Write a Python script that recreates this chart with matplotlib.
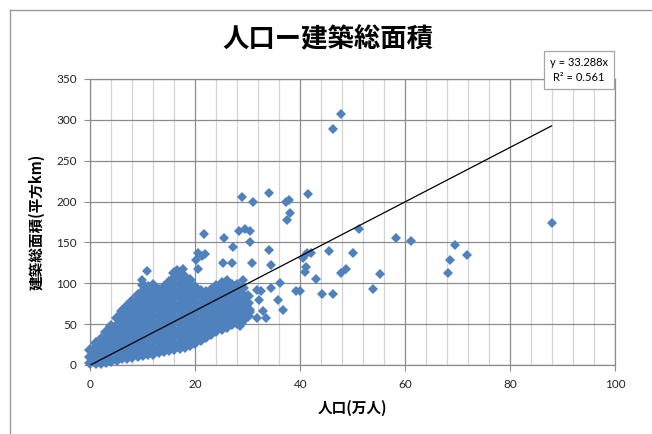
import matplotlib

matplotlib.use("Agg")
import matplotlib.pyplot as plt
from matplotlib.lines import Line2D
from matplotlib.ticker import MultipleLocator

# dense cluster, read column by column: population (万人) -> list of areas (平方km)
cluster_pop = list(range(0, 31))
cluster_area = [
    [2, 10, 18],
    [2, 6, 14, 22, 27],
    [3, 10, 18, 26, 32],
    [4, 8, 16, 24, 32, 40],
    [5, 12, 20, 28, 36, 44, 48],
    [6, 9, 17, 25, 33, 41, 49, 57],
    [8, 15, 23, 31, 39, 47, 55, 63, 66],
    [9, 12, 20, 28, 36, 44, 52, 60, 68, 72],
    [10, 17, 25, 33, 41, 49, 57, 65, 73, 78],
    [11, 14, 22, 30, 38, 46, 54, 62, 70, 78, 86],
    [12, 19, 27, 35, 43, 51, 59, 67, 75, 83, 91, 98],
    [13, 16, 24, 32, 40, 48, 56, 64, 72, 80, 88, 95],
    [14, 21, 29, 37, 45, 53, 61, 69, 77, 85, 93, 98],
    [16, 20, 28, 36, 44, 52, 60, 68, 76, 84, 92],
    [17, 24, 32, 40, 48, 56, 64, 72, 80, 88, 96],
    [18, 22, 30, 38, 46, 54, 62, 70, 78, 86, 94, 102],
    [20, 27, 35, 43, 51, 59, 67, 75, 83, 91, 99, 107, 112],
    [21, 26, 34, 42, 50, 58, 66, 74, 82, 90, 98, 106, 112],
    [22, 29, 37, 45, 53, 61, 69, 77, 85, 93, 101, 108],
    [25, 32, 40, 48, 56, 64, 72, 80, 88, 96, 104],
    [27, 35, 43, 51, 59, 67, 75, 83, 91, 96],
    [30, 36, 44, 52, 60, 68, 76, 84, 90],
    [34, 41, 49, 57, 65, 73, 81, 89],
    [38, 44, 52, 60, 68, 76, 84, 92],
    [41, 49, 57, 65, 73, 81, 89, 97],
    [44, 52, 60, 68, 76, 84, 92, 100],
    [47, 55, 63, 71, 79, 87, 95, 103],
    [50, 58, 66, 74, 82, 90, 98],
    [52, 60, 68, 76, 84, 92, 98],
    [55, 62, 70, 78, 86, 94],
    [60, 68, 76, 84],
]

# scattered points outside the cluster
outlier_pop = [
    10.8, 9.8, 17.6, 16.5, 20.2, 21.2, 21.8, 20.5, 20.5, 21.7, 25.5, 27.1,
    28.3, 29.4, 30.4, 30.5, 34.0, 28.8, 30.9, 34.1, 37.2, 37.9, 41.5, 38.0,
    37.4, 25.2, 26.9, 30.7, 34.4, 36.1, 39.1, 35.8, 36.7, 32.9, 33.4, 31.7,
    32.2, 30.5, 31.7, 28.5, 27.5, 41.0, 40.9, 43.0, 41.2, 42.1, 45.5, 44.2,
    46.2, 47.8, 48.8, 50.0, 40.5, 39.9, 51.1, 58.2, 61.1, 69.4, 71.8, 68.5,
    68.2, 53.8, 55.1, 46.2, 47.7, 87.9, 29.1, 25.9, 34.5, 32.6, 27.2, 28.8,
    27.7, 30.4,
]
outlier_area = [
    115, 104, 118, 116, 128, 133, 135.5, 137, 117, 160, 156, 145,
    164, 166, 164, 151, 141, 205, 199, 211, 200, 202, 209, 186,
    177, 124.5, 125, 125, 122, 100, 91, 79.5, 67, 66, 58, 92,
    80, 67, 57, 48, 64, 120, 114, 105, 137, 137, 139, 86.5,
    86.5, 113, 118, 137.5, 131, 91, 166, 155, 152, 147, 134, 129,
    112, 93, 111, 289, 307, 174, 104, 102, 94, 91, 69, 51,
    63, 65,
]

# trendline as drawn (ends at the largest city), and the label Excel printed
trend_pop = [0, 87.9]
trend_area = [0, 292.6]
trend_label = "y = 33.288x\nR² = 0.561"

cluster_x = []
cluster_y = []
for x, ys in zip(cluster_pop, cluster_area):
    for y in ys:
        cluster_x.append(x)
        cluster_y.append(y)

cjk = ["Noto Sans CJK JP", "DejaVu Sans"]
num_font = ["Lato", "DejaVu Sans"]
blue = "#4f81bd"

fig = plt.figure(figsize=(6.52, 4.34), dpi=100)
ax = fig.add_axes([0.1388, 0.159, 0.8045, 0.659])

ax.plot(cluster_x, cluster_y, linestyle="none", marker="D", markersize=6.3,
        color=blue, markeredgewidth=0, clip_on=False, zorder=3)
ax.plot(outlier_pop, outlier_area, linestyle="none", marker="D", markersize=4.8,
        color=blue, markeredgewidth=0, clip_on=False, zorder=3)
ax.plot(trend_pop, trend_area, color="black", linewidth=0.9, zorder=4)

ax.set_xlim(0, 100)
ax.set_ylim(0, 350)
ax.xaxis.set_major_locator(MultipleLocator(20))
ax.xaxis.set_minor_locator(MultipleLocator(4))
ax.yaxis.set_major_locator(MultipleLocator(50))
ax.grid(which="major", color="#8c8c8c", linewidth=0.9)
ax.grid(which="minor", axis="x", color="#d4d4d4", linewidth=0.9)
ax.set_axisbelow(True)
for s in ax.spines.values():
    s.set_color("#8c8c8c")
    s.set_linewidth(0.9)
ax.tick_params(which="major", length=4, color="#8c8c8c", labelsize=8.5,
               labelcolor="#222222", pad=6)
ax.tick_params(which="minor", length=0)
for lab in ax.get_xticklabels() + ax.get_yticklabels():
    lab.set_family(num_font)

ax.set_xlabel("人口(万人)", family=cjk, fontsize=10.5, fontweight="bold", labelpad=7)
ax.set_ylabel("建築総面積(平方km)", family=cjk, fontsize=10.5, fontweight="bold", labelpad=8)

fig.text(328 / 652, 1 - 40 / 434, "人口ー建築総面積", family=cjk, fontsize=19,
         fontweight="bold", ha="center", va="center")

fig.text(579 / 652, 1 - 70 / 434, trend_label, family=num_font,
         fontsize=8, ha="center", va="center", linespacing=1.5,
         bbox=dict(boxstyle="square,pad=0.55", facecolor="white", edgecolor="#a6a6a6",
                   linewidth=0.9))

# chart-area frame (left and top edges visible in the crop)
fig.add_artist(Line2D([10 / 652, 10 / 652], [0, 1 - 10 / 434], color="#9a9a9a", linewidth=1))
fig.add_artist(Line2D([10 / 652, 1], [1 - 10 / 434, 1 - 10 / 434], color="#9a9a9a", linewidth=1))

fig.savefig("out.png", dpi=100)
